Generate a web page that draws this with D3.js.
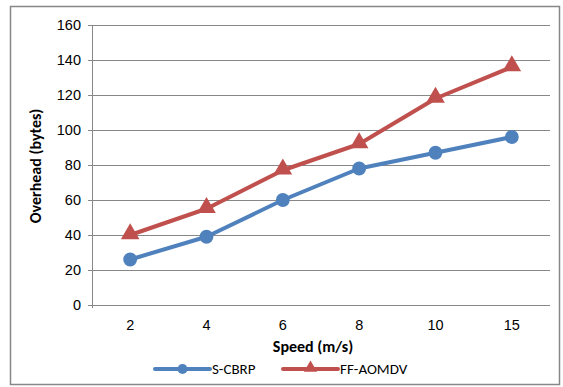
<!DOCTYPE html>
<html>
<head>
<meta charset="utf-8">
<script src="https://cdn.jsdelivr.net/npm/d3@7"></script>
<style>
  html, body { margin: 0; padding: 0; background: #fff; }
  svg { display: block; font-family: Carlito, Calibri, Lato, "Open Sans", sans-serif; }
</style>
</head>
<body>
<svg id="chart" width="563" height="387"></svg>
<script>
// Speeds (m/s) on the category axis
const speeds = ["2", "4", "6", "8", "10", "15"];
// Overhead (bytes) per protocol
const sCbrp = [26, 39, 60, 78, 87, 96];
const ffAomdv = [40, 55, 77, 92, 118, 136];
const yTicks = [0, 20, 40, 60, 80, 100, 120, 140, 160];

const series = [
  { name: "S-CBRP", values: sCbrp, color: "#4f81bd", marker: "circle" },
  { name: "FF-AOMDV", values: ffAomdv, color: "#c0504d", marker: "triangle" }
];

const plot = { left: 92, right: 550, top: 25, bottom: 305 };
const grey = "#878787";
const labelSize = 14.5, titleSize = 16, legendSize = 15;

const svg = d3.select("#chart");

// outer frame
svg.append("rect")
  .attr("x", 10.5).attr("y", 6.5)
  .attr("width", 549).attr("height", 378)
  .attr("fill", "#fff").attr("stroke", grey).attr("stroke-width", 1.5);

const x = d3.scaleBand().domain(speeds).range([plot.left, plot.right]);
const y = d3.scaleLinear().domain([0, 160]).range([plot.bottom, plot.top]);

// y axis
const yAxis = svg.append("g")
  .attr("transform", `translate(${plot.left},0)`)
  .call(d3.axisLeft(y).tickValues(yTicks).tickSize(4).tickPadding(7));
yAxis.select(".domain").attr("stroke", grey).attr("d", `M0.5,${plot.top}V${plot.bottom + 3}`);
yAxis.selectAll(".tick line").attr("stroke", grey).attr("x1", 0).attr("x2", -4);
yAxis.selectAll(".tick text").attr("font-size", labelSize).attr("fill", "#000");

// horizontal gridlines
svg.append("g").selectAll("line")
  .data(yTicks.filter(d => d > 0))
  .join("line")
  .attr("x1", plot.left).attr("x2", plot.right)
  .attr("y1", d => Math.round(y(d)) + 0.5).attr("y2", d => Math.round(y(d)) + 0.5)
  .attr("stroke", grey).attr("stroke-width", 1);

// x axis
const xAxis = svg.append("g")
  .attr("transform", `translate(0,${plot.bottom + 0.5})`)
  .call(d3.axisBottom(x).tickSize(0).tickPadding(14));
xAxis.select(".domain").attr("stroke", grey).attr("d", `M${plot.left - 4},0H${plot.right}`);
xAxis.selectAll(".tick text").attr("font-size", labelSize).attr("fill", "#000");

// axis titles
svg.append("text")
  .attr("x", 313).attr("y", 352)
  .attr("text-anchor", "middle")
  .attr("font-size", titleSize).attr("font-weight", "bold")
  .text("Speed (m/s)");

svg.append("text")
  .attr("transform", `translate(41,${(plot.top + plot.bottom) / 2 + 1}) rotate(-90)`)
  .attr("text-anchor", "middle")
  .attr("font-size", titleSize).attr("font-weight", "bold")
  .text("Overhead (bytes)");

// series lines and markers
const cx = d => x(d) + x.bandwidth() / 2;
const line = d3.line().x((v, i) => cx(speeds[i])).y(v => y(v));

const circleSym = d3.symbol().type(d3.symbolCircle).size(150);
const triSym = d3.symbol().type(d3.symbolTriangle).size(150);

series.forEach(s => {
  svg.append("path")
    .attr("d", line(s.values))
    .attr("fill", "none")
    .attr("stroke", s.color)
    .attr("stroke-width", 4)
    .attr("stroke-linejoin", "round")
    .attr("stroke-linecap", "round");
  svg.append("g").selectAll("path")
    .data(s.values)
    .join("path")
    .attr("transform", (v, i) => `translate(${cx(speeds[i])},${y(v) + (s.marker === "triangle" ? -1 : 0)})`)
    .attr("d", s.marker === "circle" ? circleSym() : triSym())
    .attr("fill", s.color);
});

// legend
const legend = [
  { s: series[0], x0: 155, x1: 210, tx: 212 },
  { s: series[1], x0: 283, x1: 338, tx: 340 }
];
const ly = 369;
legend.forEach(l => {
  svg.append("line")
    .attr("x1", l.x0).attr("x2", l.x1).attr("y1", ly).attr("y2", ly)
    .attr("stroke", l.s.color).attr("stroke-width", 4).attr("stroke-linecap", "round");
  svg.append("path")
    .attr("transform", `translate(${(l.x0 + l.x1) / 2},${ly + (l.s.marker === "triangle" ? -1 : 0)})`)
    .attr("d", l.s.marker === "circle" ? d3.symbol().type(d3.symbolCircle).size(80)() : d3.symbol().type(d3.symbolTriangle).size(75)())
    .attr("fill", l.s.color);
  svg.append("text")
    .attr("x", l.tx).attr("y", ly + 5)
    .attr("font-size", legendSize)
    .text(l.s.name);
});
</script>
</body>
</html>
